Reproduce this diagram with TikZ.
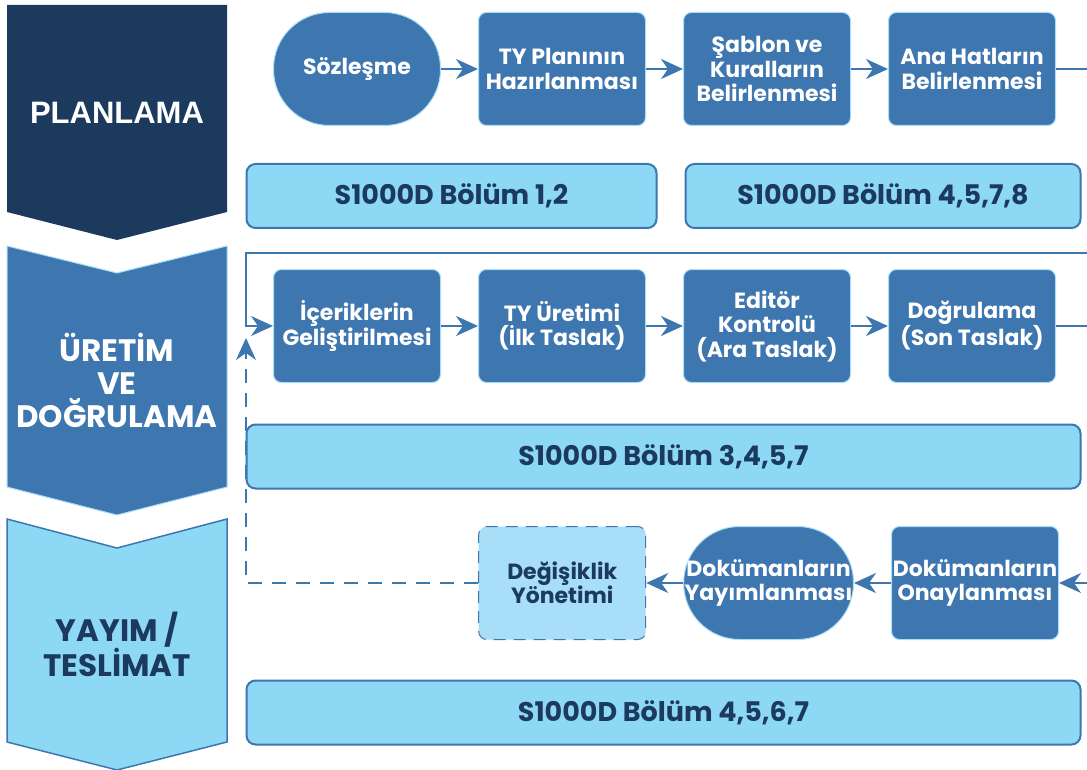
\documentclass[tikz,border=0pt]{standalone}
\usepackage{fontspec}
\setmainfont{Poppins}
\newfontfamily\arialfont{Liberation Sans}
\usetikzlibrary{arrows.meta,positioning}
\definecolor{navy}{HTML}{1B3A5E}
\definecolor{steel}{HTML}{3E76B0}
\definecolor{sky}{HTML}{8CD8F5}
\definecolor{pale}{HTML}{A8DEF8}

\begin{document}
\begin{tikzpicture}[x=1pt, y=-1pt,
  proc/.style={draw=pale, line width=1pt, fill=steel, rounded corners=8pt, minimum width=167pt, minimum height=113pt, inner sep=1pt, align=center, text=white, font=\fontsize{22}{24.5}\selectfont\bfseries},
  term/.style={proc, rounded corners=56pt},
  change/.style={proc, draw=steel, fill=pale, text=navy, dash pattern=on 12pt off 8pt},
  ref/.style={draw=steel, line width=2pt, fill=sky, rounded corners=9pt, minimum height=64pt, text=navy, font=\fontsize{27}{30}\selectfont\bfseries},
  phase/.style={align=center, font=\fontsize{31}{33}\selectfont\bfseries},
  arr/.style={-{Stealth[length=22pt, width=20pt, inset=7pt]}, steel, line width=2pt}
]
  \clip (0,0) rectangle (1087,770);

  % phase chevrons
  \fill[navy] (7,5) -- (227,5) -- (227,212) -- (117,240) -- (7,212) -- cycle;
  \filldraw[fill=steel, draw=pale, line width=1pt] (7,246) -- (117,273) -- (227,246) -- (227,487) -- (117,515) -- (7,487) -- cycle;
  \filldraw[fill=sky, draw=steel, line width=1.5pt] (7,519) -- (117,548) -- (227,519) -- (227,742) -- (117,770) -- (7,742) -- cycle;
  \node[phase, text=white, font=\arialfont\fontsize{31}{33}\selectfont\bfseries] (planlama) at (117,113) {PLANLAMA};
  \node[phase, text=white] (uretim) at (117,380) {ÜRETİM\\VE\\DOĞRULAMA};
  \node[phase, text=navy] (yayim) at (117,644) {YAYIM /\\TESLİMAT};

  % planlama row
  \node[term] (sozlesme) at (357,69) {Sözleşme};
  \node[proc, right=37pt of sozlesme] (typlan) {TY Planının\\Hazırlanması};
  \node[proc, right=37pt of typlan] (sablon) {Şablon ve\\Kuralların\\Belirlenmesi};
  \node[proc, right=37pt of sablon] (anahat) {Ana Hatların\\Belirlenmesi};
  \node[ref, minimum width=410pt] (ref1) at (451.5,196) {S1000D Bölüm 1,2};
  \node[ref, minimum width=395pt] (ref2) at (883,196) {S1000D Bölüm 4,5,7,8};

  % uretim row
  \node[proc] (icerik) at (357,326) {İçeriklerin\\Geliştirilmesi};
  \node[proc, right=37pt of icerik] (tyuretim) {TY Üretimi\\(İlk Taslak)};
  \node[proc, right=37pt of tyuretim] (editor) {Editör\\Kontrolü\\(Ara Taslak)};
  \node[proc, right=37pt of editor] (dogrulama) {Doğrulama\\(Son Taslak)};
  \node[ref, minimum width=834pt] (ref3) at (663.5,456.5) {S1000D Bölüm 3,4,5,7};

  % yayim row
  \node[proc] (onay) at (975,583) {Dokümanların\\Onaylanması};
  \node[term, left=37pt of onay] (yayimlama) {Dokümanların\\Yayımlanması};
  \node[change, left=37pt of yayimlama] (degisiklik) {Değişiklik\\Yönetimi};
  \node[ref, minimum width=834pt] (ref4) at (663.5,712.5) {S1000D Bölüm 4,5,6,7};

  \coordinate (out1) at (1100,69);
  \coordinate (wrapR) at (1100,253);
  \coordinate (wrapL) at (246,253);
  \coordinate (out2) at (1100,326);
  \coordinate (in3) at (1100,583);
  \coordinate (back) at (246,338);

  \draw[arr] (sozlesme) -- (typlan);
  \draw[arr] (typlan) -- (sablon);
  \draw[arr] (sablon) -- (anahat);
  \draw[arr] (anahat) -- (out1) -- (wrapR) -- (wrapL) |- (icerik.west);
  \draw[arr] (icerik) -- (tyuretim);
  \draw[arr] (tyuretim) -- (editor);
  \draw[arr] (editor) -- (dogrulama);
  \draw[steel, line width=2pt] (dogrulama) -- (out2);
  \draw[arr] (in3) -- (onay);
  \draw[arr] (onay) -- (yayimlama);
  \draw[arr] (yayimlama) -- (degisiklik);
  \draw[arr, dash pattern=on 14pt off 10pt] (degisiklik.west) -| (back);
\end{tikzpicture}
\end{document}
